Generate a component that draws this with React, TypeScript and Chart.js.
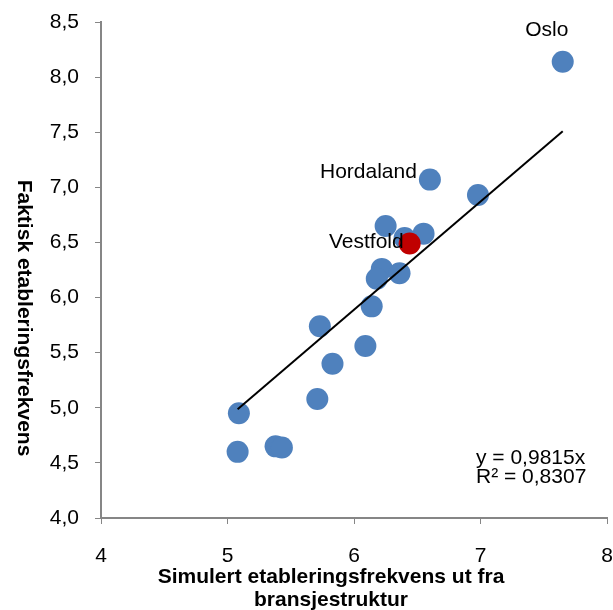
import React, { useEffect, useRef } from "react";
import { Chart, registerables } from "chart.js";

Chart.register(...registerables);

// Simulated (x) vs actual (y) establishment frequency per county
const countyX = [7.65, 6.6, 6.98, 6.25, 6.55, 6.4, 6.22, 6.18, 6.36, 6.14, 5.73, 6.09, 5.83, 5.71, 5.09, 5.08, 5.38, 5.43];
const countyY = [8.14, 7.07, 6.93, 6.65, 6.58, 6.54, 6.26, 6.17, 6.22, 5.92, 5.74, 5.56, 5.4, 5.08, 4.95, 4.6, 4.65, 4.64];
const highlightX = [6.44];
const highlightY = [6.49];
const trendSlope = 0.9815;
const rSquared = "0,8307";
const yTicks = [4.0, 4.5, 5.0, 5.5, 6.0, 6.5, 7.0, 7.5, 8.0, 8.5];
const xTicks = [4, 5, 6, 7, 8];
const pointLabels = [
  { name: "Oslo", x: 7.65, y: 8.14, align: "center", dx: -16, dy: -31 },
  { name: "Hordaland", x: 6.6, y: 7.07, align: "right", dx: -13, dy: -7 },
  { name: "Vestfold", x: 6.44, y: 6.49, align: "right", dx: -6, dy: -1 },
];

const FONT = "'Liberation Sans', Arial, sans-serif";

export default function App() {
  const ref = useRef<HTMLCanvasElement>(null);
  useEffect(() => {
    const canvas = ref.current!;
    const allX = [...countyX, ...highlightX];
    const minX = Math.min(...allX);
    const maxX = Math.max(...allX);
    const labelsPlugin = {
      id: "labelsPlugin",
      afterDatasetsDraw(chart: any) {
        const ctx = chart.ctx;
        const xs = chart.scales.x;
        const ys = chart.scales.y;
        ctx.save();
        ctx.fillStyle = "#000";
        ctx.font = `21px ${FONT}`;
        ctx.textBaseline = "middle";
        for (const l of pointLabels) {
          ctx.textAlign = l.align as CanvasTextAlign;
          ctx.fillText(l.name, xs.getPixelForValue(l.x) + l.dx, ys.getPixelForValue(l.y) + l.dy);
        }
        ctx.textAlign = "left";
        ctx.fillText(`y = ${String(trendSlope).replace(".", ",")}x`, 476, 458);
        ctx.fillText(`R² = ${rSquared}`, 476, 477);
        ctx.font = `bold 21px ${FONT}`;
        ctx.textAlign = "center";
        ctx.fillText("Simulert etableringsfrekvens ut fra", 331, 577);
        ctx.fillText("bransjestruktur", 331, 600);
        ctx.translate(24, 318);
        ctx.rotate(Math.PI / 2);
        ctx.fillText("Faktisk etableringsfrekvens", 0, 0);
        ctx.restore();
      },
    };
    const chart = new Chart(canvas, {
      type: "scatter",
      data: {
        datasets: [
          {
            type: "line",
            data: [
              { x: minX, y: trendSlope * minX },
              { x: maxX, y: trendSlope * maxX },
            ],
            borderColor: "#000",
            borderWidth: 2,
            pointRadius: 0,
            fill: false,
          },
          {
            data: highlightX.map((x, i) => ({ x, y: highlightY[i] })),
            backgroundColor: "#C00000",
            borderWidth: 0,
            pointRadius: 11,
          },
          {
            data: countyX.map((x, i) => ({ x, y: countyY[i] })),
            backgroundColor: "#4F81BD",
            borderWidth: 0,
            pointRadius: 11,
          },
        ],
      },
      options: {
        responsive: false,
        animation: false,
        layout: { autoPadding: false, padding: { top: 22, right: 6, left: 0, bottom: 0 } },
        plugins: { legend: { display: false }, tooltip: { enabled: false } },
        scales: {
          x: {
            type: "linear",
            min: xTicks[0],
            max: xTicks[xTicks.length - 1],
            afterBuildTicks: (s: any) => {
              s.ticks = xTicks.map((v) => ({ value: v }));
            },
            afterFit: (s: any) => {
              s.height = 92;
              s.paddingLeft = 0;
              s.paddingRight = 0;
            },
            ticks: {
              color: "#000",
              font: { family: FONT, size: 21 },
              padding: 20,
              maxRotation: 0,
              callback: (v: any) => String(v),
            },
            grid: { drawOnChartArea: false, tickLength: 6, color: "#868686", tickColor: "#868686" },
            border: { color: "#868686", width: 2 },
          },
          y: {
            type: "linear",
            min: yTicks[0],
            max: yTicks[yTicks.length - 1],
            afterBuildTicks: (s: any) => {
              s.ticks = yTicks.map((v) => ({ value: v }));
            },
            afterFit: (s: any) => {
              s.width = 101;
              s.paddingTop = 0;
              s.paddingBottom = 0;
            },
            ticks: {
              color: "#000",
              font: { family: FONT, size: 21 },
              padding: 16,
              callback: (v: any) => Number(v).toFixed(1).replace(".", ","),
            },
            grid: { drawOnChartArea: false, tickLength: 6, color: "#868686", tickColor: "#868686" },
            border: { color: "#868686", width: 2 },
          },
        },
      },
      plugins: [labelsPlugin],
    } as any);
    return () => chart.destroy();
  }, []);
  return (
    <div style={{ position: "absolute", left: 0, top: 0, width: 613, height: 610, background: "#fff" }}>
      <canvas ref={ref} width={613} height={610} />
    </div>
  );
}
